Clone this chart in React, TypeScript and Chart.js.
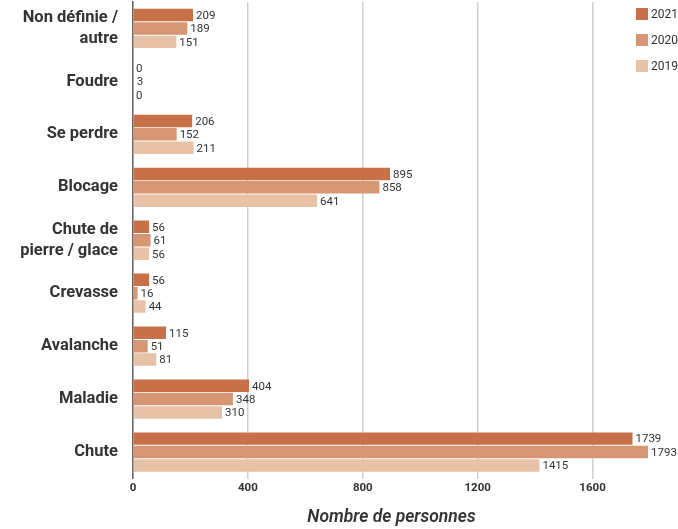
import React, { useEffect, useRef } from "react";
import { Chart, registerables } from "chart.js";

Chart.register(...registerables);

const categories: (string | string[])[] = [
  ["Non définie /", "autre"],
  "Foudre",
  "Se perdre",
  "Blocage",
  ["Chute de", "pierre / glace"],
  "Crevasse",
  "Avalanche",
  "Maladie",
  "Chute",
];
const values2021 = [209, 0, 206, 895, 56, 56, 115, 404, 1739];
const values2020 = [189, 3, 152, 858, 61, 16, 51, 348, 1793];
const values2019 = [151, 0, 211, 641, 56, 44, 81, 310, 1415];
const seriesLabels = ["2021", "2020", "2019"];
const seriesColors = ["#C87149", "#D69673", "#E8C2A7"];
const xTicks = [0, 400, 800, 1200, 1600];
const xTitle = "Nombre de personnes";

const FONT = "Roboto, 'Noto Sans', sans-serif";

const valueLabels = {
  id: "valueLabels",
  afterDatasetsDraw(chart: any) {
    const ctx = chart.ctx;
    ctx.save();
    ctx.font = `400 11.5px ${FONT}`;
    ctx.fillStyle = "#333";
    ctx.textBaseline = "middle";
    ctx.textAlign = "left";
    chart.data.datasets.forEach((ds: any, i: number) => {
      const meta = chart.getDatasetMeta(i);
      meta.data.forEach((bar: any, j: number) => {
        ctx.fillText(String(ds.data[j]), bar.x + 3, bar.y + 1);
      });
    });
    ctx.restore();
  },
};

const floatLegend = {
  id: "floatLegend",
  afterDraw(chart: any) {
    const ctx = chart.ctx;
    ctx.save();
    ctx.font = `400 12px ${FONT}`;
    ctx.textBaseline = "middle";
    ctx.textAlign = "left";
    chart.data.datasets.forEach((ds: any, i: number) => {
      const y = 14 + i * 26;
      ctx.fillStyle = ds.backgroundColor;
      ctx.fillRect(636, y - 6, 12, 12);
      ctx.fillStyle = "#333";
      ctx.fillText(ds.label, 651, y + 1);
    });
    ctx.restore();
  },
};

export default function App() {
  const ref = useRef<HTMLCanvasElement | null>(null);
  useEffect(() => {
    if (!ref.current) return;
    const data = [values2021, values2020, values2019];
    const chart = new Chart(ref.current, {
      type: "bar",
      data: {
        labels: categories,
        datasets: seriesLabels.map((label, i) => ({
          label,
          data: data[i],
          backgroundColor: seriesColors[i],
          categoryPercentage: 0.76,
          barPercentage: 0.93,
        })),
      },
      options: {
        indexAxis: "y",
        animation: false,
        responsive: false,
        maintainAspectRatio: false,
        layout: { padding: { top: 2, right: 28, bottom: 0, left: 0 } },
        plugins: {
          legend: { display: false },
          tooltip: { enabled: false },
        },
        scales: {
          x: {
            min: 0,
            max: 1800,
            afterBuildTicks: (axis: any) => {
              axis.ticks = xTicks.map((v) => ({ value: v }));
            },
            afterFit: (scale: any) => {
              scale.paddingLeft = 0;
              scale.paddingRight = 0;
              scale.height = 50.5;
            },
            grid: {
              color: "#d0d0d0",
              lineWidth: 1.5,
              drawTicks: false,
            },
            border: { display: false },
            ticks: {
              color: "#333",
              font: { family: FONT, size: 11.5, weight: "bold" },
              padding: 3,
              callback: (v: any) => String(v),
            },
            title: {
              display: true,
              text: xTitle,
              color: "#333",
              font: { family: FONT, size: 17.5, style: "italic", weight: "600" },
              padding: { top: 0, bottom: 1 },
            },
          },
          y: {
            afterFit: (scale: any) => {
              scale.paddingTop = 0;
              scale.paddingBottom = 0;
              scale.width = 133;
            },
            grid: { display: false, drawTicks: false },
            border: { display: true, color: "#666", width: 1.5 },
            ticks: {
              color: "#333",
              font: { family: FONT, size: 16.5, weight: "bold", lineHeight: 1.3 },
              padding: 15,
            },
          },
        },
      },
      plugins: [valueLabels, floatLegend],
    } as any);
    return () => chart.destroy();
  }, []);
  return (
    <div style={{ position: "fixed", left: 0, top: 0, width: 678, height: 529, background: "#fff" }}>
      <canvas ref={ref} width={678} height={529} style={{ width: 678, height: 529 }} />
    </div>
  );
}
